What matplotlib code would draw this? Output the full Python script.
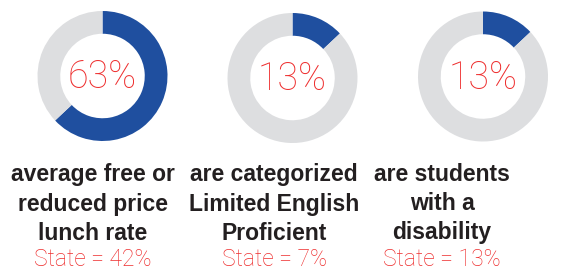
import matplotlib.pyplot as plt

# data
values = [63, 13, 13]
pct_labels = ['63%', '13%', '13%']
label_lines = [
    ['average free or', 'reduced price', 'lunch rate'],
    ['are categorized', 'Limited English', 'Proficient'],
    ['are students', 'with a', 'disability'],
]
state_labels = ['State = 42%', 'State = 7%', 'State = 13%']

BLUE = '#1f4f9f'
GRAY = '#dddee0'
RED = '#ee2e2e'
DARK = '#231f20'

W, H = 571, 272
fig = plt.figure(figsize=(W / 100, H / 100), dpi=100)

# pixel positions (from the top-left)
donut_cx = [102.5, 292.5, 483]
donut_cy = [76, 78, 76.5]
R = 65
text_cx = [93, 274, 442]
baselines = [181, 210.5, 239.5]
state_base = 266.5

for i in range(3):
    ax = fig.add_axes([(donut_cx[i] - R) / W, (H - donut_cy[i] - R) / H,
                       2 * R / W, 2 * R / H])
    ax.pie([values[i], 100 - values[i]], colors=[BLUE, GRAY], startangle=90,
           counterclock=False, wedgeprops=dict(width=0.35, linewidth=0))
    ax.set_xlim(-1, 1)
    ax.set_ylim(-1, 1)
    ax.axis('off')
    ax.text(0, -0.02, pct_labels[i], ha='center', va='center', color=RED,
            fontsize=27, family='Roboto', fontweight='light')

    for j, line in enumerate(label_lines[i]):
        fig.text(text_cx[i] / W, 1 - baselines[j] / H, line, ha='center',
                 va='baseline', fontsize=16.5, fontweight='bold', color=DARK,
                 family='Liberation Sans')
    fig.text(text_cx[i] / W, 1 - state_base / H, state_labels[i], ha='center',
             va='baseline', fontsize=16.5, color=RED, family='Roboto',
             fontweight='light')

fig.savefig('out.png', dpi=100)
